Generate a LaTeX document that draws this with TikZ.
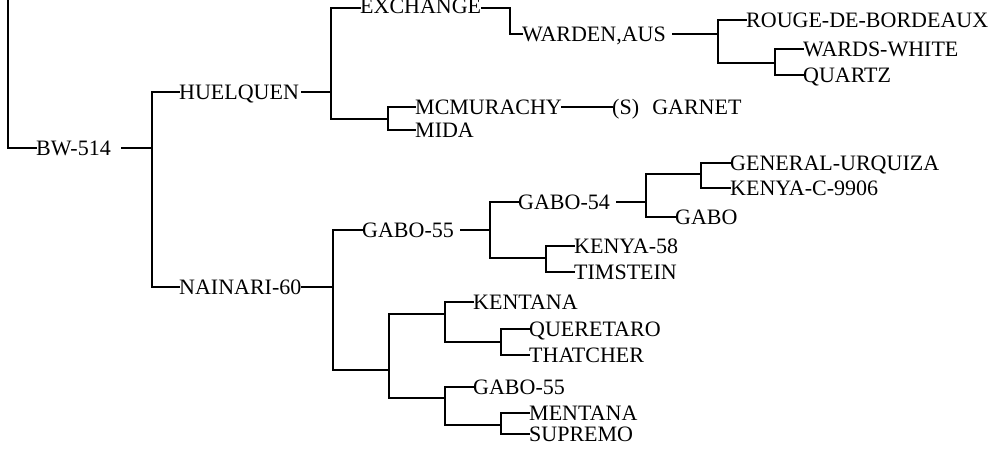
\documentclass[tikz,border=0pt]{standalone}
\usepackage{fontspec}
\setmainfont{Liberation Serif}
\begin{document}
\begin{tikzpicture}[x=1pt,y=-1pt,
  lbl/.style={anchor=west,inner sep=0pt,text height=14.6pt,text depth=0pt,font=\fontsize{22}{26}\selectfont},
  br/.style={line width=1.6pt,line cap=rect}]
\useasboundingbox (0,0) rectangle (998,457);
% coordinates of junctions
\coordinate (rt) at (8,-2);
\coordinate (rc) at (8,148);
\coordinate (j1) at (152,148);
\coordinate (j1a) at (152,92);
\coordinate (j1b) at (152,287);
\coordinate (j2) at (331,92);
\coordinate (j2a) at (331,8);
\coordinate (j2b) at (331,119);
\coordinate (j3) at (388,119);
\coordinate (j3a) at (388,107);
\coordinate (j3b) at (388,130);
\coordinate (jx) at (510,8);
\coordinate (jxb) at (510,34);
\coordinate (j4) at (718,34);
\coordinate (j4a) at (718,20);
\coordinate (j4b) at (718,63);
\coordinate (j5) at (775,63);
\coordinate (j5a) at (775,49);
\coordinate (j5b) at (775,75);
\coordinate (j6) at (333,287);
\coordinate (j6a) at (333,230);
\coordinate (j6b) at (333,370);
\coordinate (j7) at (490,230);
\coordinate (j7a) at (490,202);
\coordinate (j7b) at (490,258);
\coordinate (j8) at (646,202);
\coordinate (j8a) at (646,174);
\coordinate (j8b) at (646,217);
\coordinate (j9) at (701,174);
\coordinate (j9a) at (701,163);
\coordinate (j9b) at (701,188);
\coordinate (j10) at (546,258);
\coordinate (j10a) at (546,246);
\coordinate (j10b) at (546,272);
\coordinate (j11) at (389,370);
\coordinate (j11a) at (389,314);
\coordinate (j11b) at (389,398);
\coordinate (j12) at (445,314);
\coordinate (j12a) at (445,302);
\coordinate (j12b) at (445,342);
\coordinate (j13) at (501,342);
\coordinate (j13a) at (501,329);
\coordinate (j13b) at (501,355);
\coordinate (j14) at (445,398);
\coordinate (j14a) at (445,387);
\coordinate (j14b) at (445,425);
\coordinate (j15) at (501,425);
\coordinate (j15a) at (501,413);
\coordinate (j15b) at (501,434);
% labels
\node[lbl] (bw) at (36,148) {BW-514};
\node[lbl] (huel) at (179,92) {HUELQUEN};
\node[lbl] (nain) at (179,287) {NAINARI-60};
\node[lbl] (exch) at (360,6) {EXCHANGE};
\node[lbl] (ward) at (522,34) {WARDEN,AUS};
\node[lbl] (rouge) at (746,20) {ROUGE-DE-BORDEAUX};
\node[lbl] (ww) at (803,49) {WARDS-WHITE};
\node[lbl] (quartz) at (803,75) {QUARTZ};
\node[lbl] (mcm) at (415,107) {MCMURACHY};
\node[lbl] (mida) at (415,130) {MIDA};
\node[lbl] (garnet) at (612,107) {(S)\hspace{0.6em}GARNET};
\node[lbl] (g55) at (362,230) {GABO-55};
\node[lbl] (g54) at (518,202) {GABO-54};
\node[lbl] (gu) at (730,163) {GENERAL-URQUIZA};
\node[lbl] (kc) at (730,188) {KENYA-C-9906};
\node[lbl] (gabo) at (675,217) {GABO};
\node[lbl] (k58) at (574,246) {KENYA-58};
\node[lbl] (tim) at (574,272) {TIMSTEIN};
\node[lbl] (kent) at (473,302) {KENTANA};
\node[lbl] (quer) at (529,329) {QUERETARO};
\node[lbl] (that) at (529,355) {THATCHER};
\node[lbl] (g55b) at (473,387) {GABO-55};
\node[lbl] (ment) at (529,413) {MENTANA};
\node[lbl] (sup) at (529,434) {SUPREMO};
% branches
\draw[br] (rt) -- (rc) -- (bw.west);
\draw[br] ([xshift=11pt]bw.east) -- (j1);
\draw[br] (j1a) -- (j1b);
\draw[br] (j1a) -- (huel.west);
\draw[br] (j1b) -- (nain.west);
\draw[br] ([xshift=3pt]huel.east) -- (j2);
\draw[br] (j2a) -- (j2b);
\draw[br] (j2a) -- (exch.west |- j2a);
\draw[br] (exch.east |- jx) -- (jx) -- (jxb) -- (ward.west);
\draw[br] (j2b) -- (j3);
\draw[br] (j3a) -- (j3b);
\draw[br] (j3a) -- (mcm.west);
\draw[br] (j3b) -- (mida.west);
\draw[br] (mcm.east) -- (garnet.west);
\draw[br] ([xshift=7pt]ward.east) -- (j4);
\draw[br] (j4a) -- (j4b);
\draw[br] (j4a) -- (rouge.west);
\draw[br] (j4b) -- (j5);
\draw[br] (j5a) -- (j5b);
\draw[br] (j5a) -- (ww.west);
\draw[br] (j5b) -- (quartz.west);
\draw[br] (nain.east) -- (j6);
\draw[br] (j6a) -- (j6b);
\draw[br] (j6a) -- (g55.west);
\draw[br] ([xshift=7pt]g55.east) -- (j7);
\draw[br] (j7a) -- (j7b);
\draw[br] (j7a) -- (g54.west);
\draw[br] ([xshift=7pt]g54.east) -- (j8);
\draw[br] (j8a) -- (j8b);
\draw[br] (j8a) -- (j9);
\draw[br] (j9a) -- (j9b);
\draw[br] (j9a) -- (gu.west);
\draw[br] (j9b) -- (kc.west);
\draw[br] (j8b) -- (gabo.west);
\draw[br] (j7b) -- (j10);
\draw[br] (j10a) -- (j10b);
\draw[br] (j10a) -- (k58.west);
\draw[br] (j10b) -- (tim.west);
\draw[br] (j6b) -- (j11);
\draw[br] (j11a) -- (j11b);
\draw[br] (j11a) -- (j12);
\draw[br] (j12a) -- (j12b);
\draw[br] (j12a) -- (kent.west);
\draw[br] (j12b) -- (j13);
\draw[br] (j13a) -- (j13b);
\draw[br] (j13a) -- (quer.west);
\draw[br] (j13b) -- (that.west);
\draw[br] (j11b) -- (j14);
\draw[br] (j14a) -- (j14b);
\draw[br] (j14a) -- (g55b.west);
\draw[br] (j14b) -- (j15);
\draw[br] (j15a) -- (j15b);
\draw[br] (j15a) -- (ment.west);
\draw[br] (j15b) -- (sup.west);
\end{tikzpicture}
\end{document}
